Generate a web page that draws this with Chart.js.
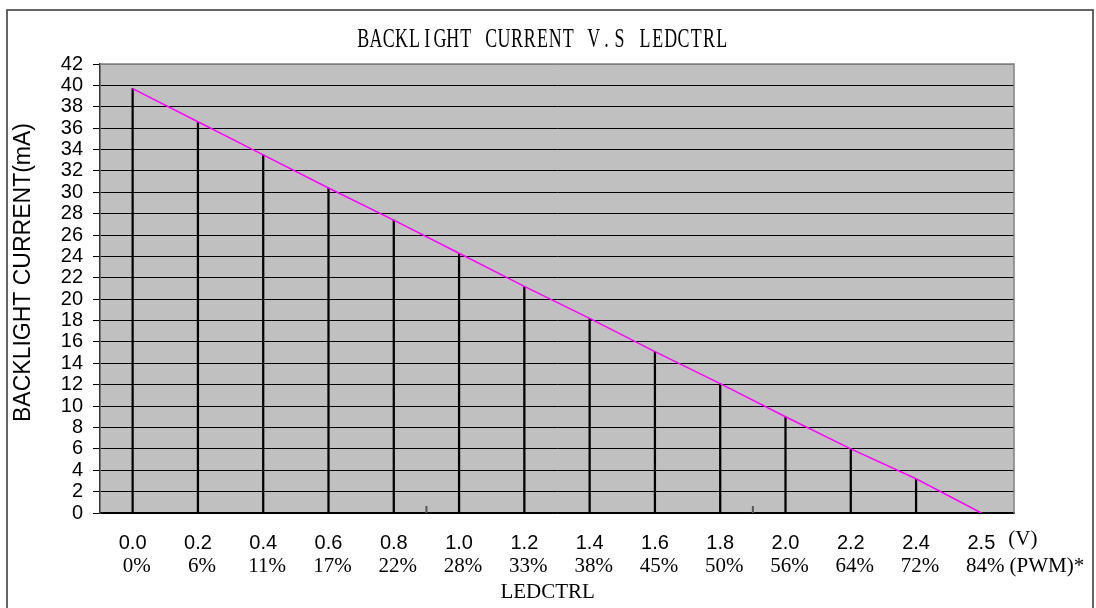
<!DOCTYPE html>
<html><head><meta charset="utf-8">
<script src="https://cdn.jsdelivr.net/npm/chart.js@4.4.1/dist/chart.umd.min.js"></script>
<style>html,body{margin:0;padding:0;background:#fff;overflow:hidden}#wrap{position:relative;width:1096px;height:608px}</style>
</head><body><div id="wrap"><canvas id="c"></canvas></div>
<script>
const chartTitle = 'BACKLIGHT CURRENT V.S LEDCTRL';
const yAxisTitle = 'BACKLIGHT CURRENT(mA)';
const xAxisTitle = 'LEDCTRL';
const voltageLabels = ['0.0','0.2','0.4','0.6','0.8','1.0','1.2','1.4','1.6','1.8','2.0','2.2','2.4','2.5'];
const pwmLabels = ['0%','6%','11%','17%','22%','28%','33%','38%','45%','50%','56%','64%','72%','84%'];
const currentValues = [39.7,36.6,33.5,30.4,27.4,24.3,21.2,18.2,15.1,12.1,9.0,6.0,3.2,0];
const voltageUnit = '(V)';
const pwmUnit = '(PWM)*';
const yMin = 0, yMax = 42, yStep = 2;

const SANS = '"Liberation Sans", Arial, sans-serif';
const SERIF = '"Liberation Serif", "Times New Roman", serif';

const decor = {
  id: 'decor',
  beforeDraw(chart) {
    const {ctx, chartArea: a} = chart;
    ctx.save();
    ctx.fillStyle = '#ffffff';
    ctx.fillRect(0, 0, chart.width, chart.height);
    ctx.fillStyle = '#c0c0c0';
    ctx.fillRect(a.left, a.top, a.right - a.left, a.bottom - a.top);
    ctx.restore();
  },
  afterDraw(chart) {
    const {ctx, chartArea: a, scales: {x}} = chart;
    ctx.save();
    // plot border (top/right)
    ctx.strokeStyle = '#808080';
    ctx.lineWidth = 1.5;
    ctx.beginPath();
    ctx.moveTo(a.left, a.top); ctx.lineTo(a.right, a.top); ctx.lineTo(a.right, a.bottom);
    ctx.stroke();
    // small stray ticks on the baseline
    ctx.strokeStyle = '#555';
    ctx.lineWidth = 2;
    [[4,5],[9,10]].forEach(([i,j]) => {
      const px = (x.getPixelForValue(i) + x.getPixelForValue(j)) / 2;
      ctx.beginPath(); ctx.moveTo(px, a.bottom - 7); ctx.lineTo(px, a.bottom); ctx.stroke();
    });
    // outer frame
    ctx.strokeStyle = '#333';
    ctx.lineWidth = 1.5;
    ctx.strokeRect(7, 10, 1086, 640);

    // title (monospaced serif look)
    ctx.fillStyle = '#000';
    ctx.font = '28px ' + SERIF;
    ctx.textAlign = 'center';
    ctx.textBaseline = 'alphabetic';
    const pitch = 12.81;
    const cx = 542.5;
    const start = cx - chartTitle.length * pitch / 2;
    for (let i = 0; i < chartTitle.length; i++) {
      const ch = chartTitle[i];
      if (ch === ' ') continue;
      ctx.save();
      ctx.translate(start + (i + 0.5) * pitch, 46.5);
      ctx.scale(0.64, 1);
      ctx.fillText(ch, 0, 0);
      ctx.restore();
    }

    // PWM row
    ctx.font = '21px ' + SERIF;
    ctx.textBaseline = 'middle';
    ctx.textAlign = 'center';
    let lastRight = 0;
    pwmLabels.forEach((t, i) => {
      const px = x.getPixelForValue(i) + 4;
      ctx.fillText(t, px, 566);
      if (i === pwmLabels.length - 1) lastRight = px + ctx.measureText(t).width / 2;
    });
    ctx.textAlign = 'left';
    ctx.fillText(pwmUnit, lastRight + 5, 566);
    // (V) unit
    const lastX = x.getPixelForValue(voltageLabels.length - 1);
    ctx.font = '20px ' + SANS;
    const vw = ctx.measureText(voltageLabels[voltageLabels.length - 1]).width;
    ctx.font = '21px ' + SERIF;
    ctx.fillText(voltageUnit, lastX + vw / 2 + 13, 539);

    // axis titles
    ctx.textAlign = 'center';
    ctx.fillText(xAxisTitle, 547.7, 592);
    ctx.font = '23px ' + SANS;
    ctx.translate(24, 272.5);
    ctx.rotate(-Math.PI / 2);
    ctx.fillText(yAxisTitle, 0, 0);
    ctx.restore();
  }
};

new Chart(document.getElementById('c'), {
  type: 'bar',
  data: {
    labels: voltageLabels,
    datasets: [
      {
        type: 'line',
        label: 'current',
        data: currentValues,
        borderColor: '#ff00ff',
        borderWidth: 1.5,
        pointRadius: 0,
        tension: 0,
        order: 0
      },
      {
        type: 'bar',
        label: 'drop',
        data: currentValues,
        backgroundColor: '#000',
        barThickness: 1.6,
        order: 1
      }
    ]
  },
  options: {
    responsive: true,
    maintainAspectRatio: false,
    animation: false,
    devicePixelRatio: 1,
    layout: { padding: { top: 64, right: 82, left: 0, bottom: 0 } },
    plugins: { legend: { display: false }, tooltip: { enabled: false }, title: { display: false } },
    scales: {
      x: {
        offset: true,
        afterFit(s) { s.height = 95; },
        grid: { display: false, drawTicks: false },
        border: { display: true, color: '#000', width: 1.5 },
        ticks: { color: '#000', font: { family: SANS, size: 20 }, padding: 18, maxRotation: 0, autoSkip: false }
      },
      y: {
        min: yMin, max: yMax,
        afterFit(s) { s.width = 100; },
        grid: {
          color: (c) => (c.tick && c.tick.value === yMax) ? '#808080' : '#000',
          lineWidth: 1,
          drawTicks: true,
          tickLength: 7,
          tickColor: '#000'
        },
        border: { display: true, color: '#333', width: 1.5 },
        ticks: { stepSize: yStep, color: '#000', font: { family: SANS, size: 20 }, padding: 10, autoSkip: false }
      }
    }
  },
  plugins: [decor]
});
</script></body></html>
